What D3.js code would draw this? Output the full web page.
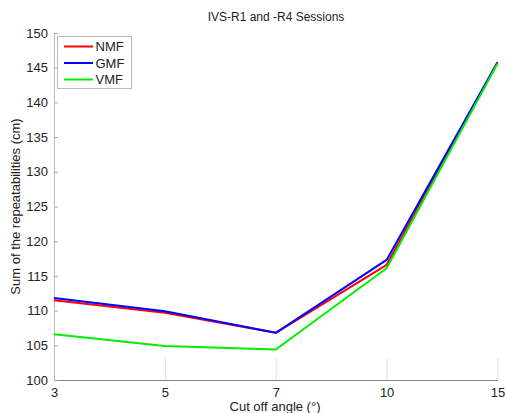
<!DOCTYPE html>
<html>
<head>
<meta charset="utf-8">
<script src="https://cdn.jsdelivr.net/npm/d3@7"></script>
<style>
  body { margin: 0; background: #fff; }
  text { font-family: "Liberation Sans", Arial, sans-serif; fill: #222; }
</style>
</head>
<body>
<div id="chart"></div>
<script>
// Data
var angles = ["3", "5", "7", "10", "15"];
var nmf = [111.5, 109.7, 106.8, 116.6, 145.7];
var gmf = [111.8, 109.9, 106.8, 117.3, 145.8];
var vmf = [106.6, 104.9, 104.4, 116.1, 145.6];
var yTicks = [100, 105, 110, 115, 120, 125, 130, 135, 140, 145, 150];

var series = [
  { name: "NMF", values: nmf, color: "#ff0000" },
  { name: "GMF", values: gmf, color: "#0000ff" },
  { name: "VMF", values: vmf, color: "#00ee00" }
];

var svgWidth = 507;
var svgHeight = 413;
var margin = { top: 33, right: 10, bottom: 33, left: 54 };
var width = 497.5 - margin.left;
var height = 380 - margin.top;

var svg = d3.select("#chart")
  .append("svg")
  .attr("width", svgWidth)
  .attr("height", svgHeight);

var chartGroup = svg.append("g")
  .attr("transform", `translate(${margin.left}, ${margin.top})`);

// Scales
var xScale = d3.scalePoint()
  .domain(angles)
  .range([0, width]);

var yScale = d3.scaleLinear()
  .domain([100, 150])
  .range([height, 0]);

// Axes (ticks inside, MATLAB style)
var bottomAxis = d3.axisBottom(xScale).tickSizeInner(-22).tickSizeOuter(0).tickPadding(26);
var leftAxis = d3.axisLeft(yScale).tickValues(yTicks).tickSizeInner(-4).tickSizeOuter(0).tickPadding(6);

var xAxis = chartGroup.append("g")
  .attr("transform", `translate(0, ${height})`)
  .call(bottomAxis);
xAxis.select(".domain").attr("stroke", "#888");
xAxis.selectAll(".tick line").attr("stroke", "#e2e2e2");
xAxis.selectAll(".tick text")
  .attr("dy", "0em")
  .attr("y", 17)
  .style("font-size", "13px")
  .style("font-family", "Liberation Sans, Arial, sans-serif")
  .attr("fill", "#222");

var yAxis = chartGroup.append("g")
  .call(leftAxis);
yAxis.select(".domain").attr("stroke", "#bbb");
yAxis.selectAll(".tick line").attr("stroke", "#aaa");
yAxis.selectAll(".tick text")
  .style("font-size", "13px")
  .style("font-family", "Liberation Sans, Arial, sans-serif")
  .attr("fill", "#222");

// Lines
var line = d3.line()
  .x((d, i) => xScale(angles[i]))
  .y(d => yScale(d));

chartGroup.selectAll(".series")
  .data(series)
  .enter()
  .append("path")
  .attr("class", "series")
  .attr("d", d => line(d.values))
  .attr("fill", "none")
  .attr("stroke", d => d.color)
  .attr("stroke-width", 2)
  .attr("stroke-linejoin", "round");

// Legend
var legend = svg.append("g")
  .attr("transform", "translate(57.5, 36.5)");

legend.append("rect")
  .attr("width", 74)
  .attr("height", 52)
  .attr("fill", "#fff")
  .attr("stroke", "#bbb");

var items = legend.selectAll(".item")
  .data(series)
  .enter()
  .append("g")
  .attr("transform", (d, i) => `translate(0, ${10 + i * 16.5})`);

items.append("line")
  .attr("x1", 6.5).attr("x2", 35.5)
  .attr("stroke", d => d.color)
  .attr("stroke-width", 2);

items.append("text")
  .attr("x", 38)
  .attr("dy", "0.35em")
  .style("font-size", "13px")
  .text(d => d.name);

// Title and axis labels
svg.append("text")
  .attr("x", 276)
  .attr("y", 21)
  .style("text-anchor", "middle")
  .style("font-size", "12px")
  .text("IVS-R1 and -R4 Sessions");

svg.append("text")
  .attr("x", 275)
  .attr("y", 411)
  .style("text-anchor", "middle")
  .style("font-size", "13px")
  .text("Cut off angle (°)");

svg.append("text")
  .attr("transform", "rotate(-90)")
  .attr("x", -(margin.top + height / 2))
  .attr("y", 20)
  .style("text-anchor", "middle")
  .style("font-size", "13px")
  .text("Sum of the repeatabilities (cm)");
</script>
</body>
</html>
